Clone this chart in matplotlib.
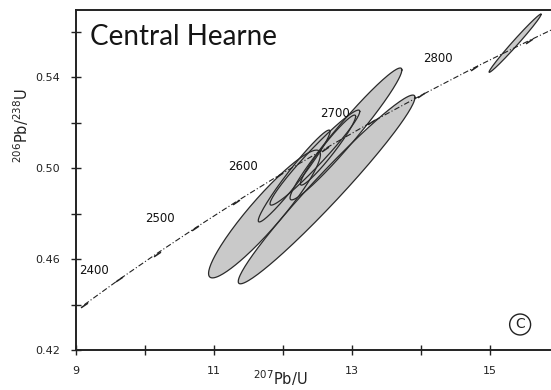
import numpy as np
import matplotlib
matplotlib.use("Agg")
import matplotlib.pyplot as plt
from matplotlib.ticker import FixedLocator

# concordia points (age in Ma, 207Pb/235U, 206Pb/238U)
ages = [2350, 2400, 2450, 2500, 2550, 2600, 2650, 2700, 2750, 2800, 2850, 2900]
conc_x = [9.12, 9.63, 10.17, 10.73, 11.32, 11.94, 12.60, 13.28, 14.00, 14.76, 15.56, 16.39]
conc_y = [0.4399, 0.4511, 0.4624, 0.4737, 0.4852, 0.4968, 0.5084, 0.5202, 0.5320, 0.5440, 0.5560, 0.5681]
labelled_ages = [2400, 2500, 2600, 2700, 2800]

# zircon analyses: centre, 2-sigma errors, error correlation
ell_x = [11.73, 12.63, 12.91, 12.16, 12.46, 12.65, 15.36]
ell_y = [0.4798, 0.4906, 0.5150, 0.4965, 0.5046, 0.5079, 0.5549]
ell_sx = [0.81, 1.28, 0.81, 0.52, 0.65, 0.40, 0.377]
ell_sy = [0.0281, 0.0415, 0.0290, 0.0202, 0.0209, 0.0154, 0.0128]
ell_rho = [0.93, 0.975, 0.97, 0.97, 0.97, 0.96, 0.99]

fig = plt.figure(figsize=(5.51, 3.90), dpi=100)
ax = fig.add_axes([76 / 551, 40 / 390, 1 - 76 / 551, 340 / 390])


def ellipse_xy(cx, cy, sx, sy, rho, n=200):
    t = np.linspace(0, 2 * np.pi, n)
    u, v = np.cos(t), np.sin(t)
    x = cx + sx * u
    y = cy + sy * (rho * u + np.sqrt(1 - rho ** 2) * v)
    return x, y


# fills first so every outline stays visible on top
shapes = [ellipse_xy(*p) for p in zip(ell_x, ell_y, ell_sx, ell_sy, ell_rho)]
for x, y in shapes:
    ax.fill(x, y, color="#c9c9c9", lw=0, zorder=2)
for x, y in shapes:
    ax.plot(x, y, color="#2a2a2a", lw=0.9, zorder=3)

ax.plot(conc_x, conc_y, color="#222222", lw=0.8, ls=(0, (5, 2, 1, 2)), zorder=4)
ax.plot(conc_x, conc_y, ls="none", marker=(2, 0, -56), ms=6, mew=1.1,
        color="#222222", zorder=4)

for a in labelled_ages:
    i = ages.index(a)
    dx = -25 if a == 2400 else -36
    ax.annotate(str(a), (conc_x[i], conc_y[i]), xytext=(dx, 9),
                textcoords="offset pixels", ha="center", va="center",
                fontsize=8.5, color="#111111", zorder=5)

ax.text(0.03, 0.96, "Central Hearne", transform=ax.transAxes, fontsize=20,
        ha="left", va="top", color="#151515", family="Lato")
ax.text(0.935, 0.075, "C", transform=ax.transAxes, fontsize=10, ha="center",
        va="center", color="#222222",
        bbox=dict(boxstyle="circle,pad=0.25", fc="none", ec="#222222", lw=1.0))

ax.set_xlim(9, 15.88)
ax.set_ylim(0.42, 0.5695)

ax.xaxis.set_major_locator(FixedLocator([9, 11, 13, 15]))
ax.xaxis.set_minor_locator(FixedLocator([10, 12, 14]))
ax.yaxis.set_major_locator(FixedLocator([0.42, 0.46, 0.50, 0.54]))
ax.yaxis.set_minor_locator(FixedLocator([0.44, 0.48, 0.52, 0.56]))
ax.set_yticklabels(["0.42", "0.46", "0.50", "0.54"])
ax.set_xticklabels(["9", "11", "13", "15"])
ax.tick_params(which="both", direction="inout", length=7, width=1.0,
               colors="#222222", labelsize=8, pad=8)

for side in ["left", "bottom", "top"]:
    ax.spines[side].set_linewidth(1.4)
    ax.spines[side].set_color("#222222")
ax.spines["right"].set_visible(False)

ax.set_xlabel(r"$^{207}$Pb/U", fontsize=10.5, color="#222222")
ax.xaxis.set_label_coords(0.43, -0.055)
ax.set_ylabel(r"$^{206}$Pb/$^{238}$U", fontsize=10.5, color="#222222")
ax.yaxis.set_label_coords(-0.095, 0.66)

fig.savefig("out.png", dpi=100)
